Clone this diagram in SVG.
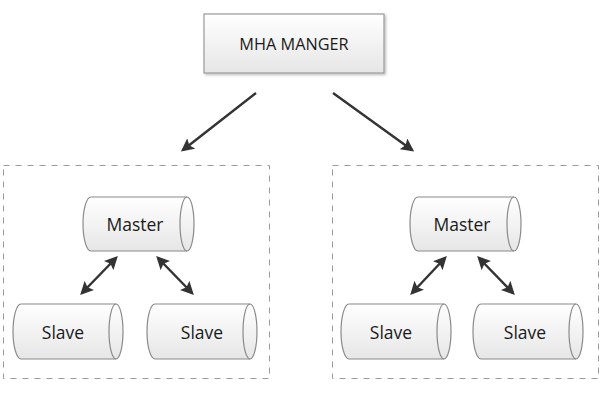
<svg xmlns="http://www.w3.org/2000/svg" width="600" height="400" viewBox="0 0 600 400">
<style>
.bg{fill:#fff}
.cyl{fill:url(#g);stroke:#8a8a8a;stroke-width:1.2}
.cap{fill:none;stroke:#8a8a8a;stroke-width:1.2}
.lbl{font-family:"Open Sans","Noto Sans","Liberation Sans",sans-serif;font-size:17.5px;fill:#1a1a1a;text-anchor:middle;dominant-baseline:central}
.grp{fill:none;stroke:#9a9a9a;stroke-width:1;stroke-dasharray:6 6}
.arr{stroke:#333;stroke-width:2.4;fill:none}
.one{marker-end:url(#ah)}
.two{marker-start:url(#ah);marker-end:url(#ah)}
</style>
<defs>
<linearGradient id="g" x1="0" y1="0" x2="0" y2="1">
<stop offset="0" stop-color="#ffffff"/>
<stop offset="1" stop-color="#e6e6e6"/>
</linearGradient>
<filter id="sh" x="-10%" y="-10%" width="130%" height="140%">
<feDropShadow dx="1.5" dy="1.5" stdDeviation="1.2" flood-color="#000" flood-opacity="0.25"/>
</filter>
<marker id="ah" viewBox="0 0 10 10" refX="8" refY="5" markerWidth="5.5" markerHeight="5.5" orient="auto-start-reverse" markerUnits="strokeWidth">
<path d="M0,0 L10,5 L0,10 L2,5 Z" fill="#333"/>
</marker>
</defs>
<rect class="bg" width="600" height="400"/>
<rect class="grp" x="3.5" y="165.5" width="266" height="213"/>
<rect class="grp" x="332.5" y="165.5" width="266" height="213"/>
<g id="mha">
<rect x="204" y="14" width="180" height="59" fill="url(#g)" stroke="#999" stroke-width="1.2" filter="url(#sh)"/>
<text class="lbl" x="294" y="44" style="font-size:16.3px">MHA MANGER</text>
</g>
<g id="masterL" transform="translate(83,197)">
<path class="cyl" d="M8,0 H104 A7,27 0 0 1 104,54 H8 A8,27 0 0 1 8,0 Z"/>
<path class="cap" d="M104,0 A7,27 0 0 0 104,54"/>
<text class="lbl" x="52" y="27">Master</text>
</g>
<g id="slaveL1" transform="translate(13,304)">
<path class="cyl" d="M8,0 H103 A7,27.5 0 0 1 103,55 H8 A8,27.5 0 0 1 8,0 Z"/>
<path class="cap" d="M103,0 A7,27.5 0 0 0 103,55"/>
<text class="lbl" x="50" y="28">Slave</text>
</g>
<g id="slaveL2" transform="translate(147,304)">
<path class="cyl" d="M8,0 H103 A7,27.5 0 0 1 103,55 H8 A8,27.5 0 0 1 8,0 Z"/>
<path class="cap" d="M103,0 A7,27.5 0 0 0 103,55"/>
<text class="lbl" x="55" y="28">Slave</text>
</g>
<g id="masterR" transform="translate(410,197)">
<path class="cyl" d="M8,0 H104 A7,27 0 0 1 104,54 H8 A8,27 0 0 1 8,0 Z"/>
<path class="cap" d="M104,0 A7,27 0 0 0 104,54"/>
<text class="lbl" x="52" y="27">Master</text>
</g>
<g id="slaveR1" transform="translate(341,304)">
<path class="cyl" d="M8,0 H103 A7,27.5 0 0 1 103,55 H8 A8,27.5 0 0 1 8,0 Z"/>
<path class="cap" d="M103,0 A7,27.5 0 0 0 103,55"/>
<text class="lbl" x="50" y="28">Slave</text>
</g>
<g id="slaveR2" transform="translate(473,304)">
<path class="cyl" d="M8,0 H103 A7,27.5 0 0 1 103,55 H8 A8,27.5 0 0 1 8,0 Z"/>
<path class="cap" d="M103,0 A7,27.5 0 0 0 103,55"/>
<text class="lbl" x="52" y="28">Slave</text>
</g>
<g id="connectors">
<line class="arr one" x1="256" y1="93" x2="183" y2="150"/>
<line class="arr one" x1="333" y1="93" x2="412" y2="150"/>
<line class="arr two" x1="116" y1="258" x2="82" y2="293"/>
<line class="arr two" x1="158" y1="258" x2="192" y2="293"/>
<line class="arr two" x1="445" y1="258" x2="412" y2="293"/>
<line class="arr two" x1="479" y1="258" x2="513" y2="293"/>
</g>
</svg>
